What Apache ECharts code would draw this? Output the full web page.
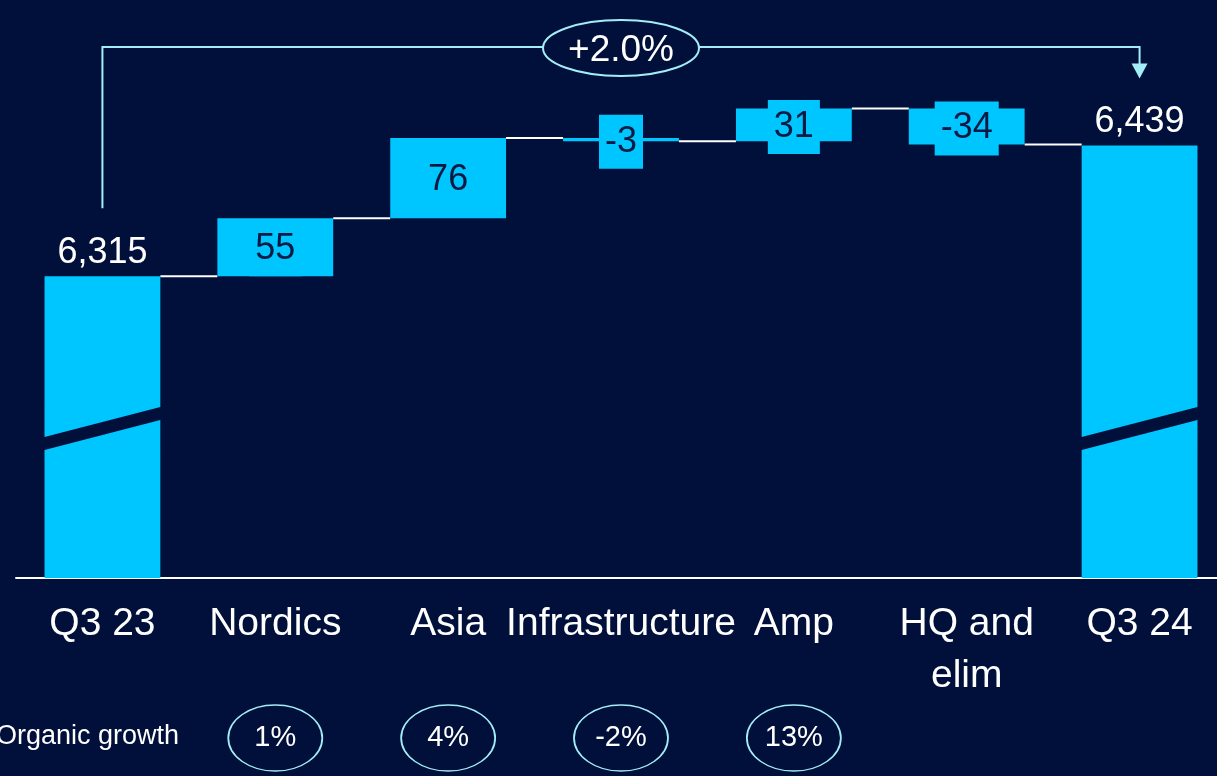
<!DOCTYPE html>
<html><head><meta charset="utf-8">
<script src="https://cdn.jsdelivr.net/npm/echarts@6/dist/echarts.min.js"></script>
<style>html,body{margin:0;padding:0;background:#010f3b;overflow:hidden;}#c{width:1226px;height:776px;}</style>
</head><body><div id="c"></div>
<script>
// ---- data ----
const categories = ['Q3 23', 'Nordics', 'Asia', 'Infrastructure', 'Amp', 'HQ and\nelim', 'Q3 24'];
const startTotal = 6315;
const endTotal = 6439;
const deltas = [null, 55, 76, -3, 31, -34, null];
const organicGrowth = [null, 1, 4, -2, 13, null, null];
const totalGrowthLabel = '+2.0%';
const axisMin = 6029;
const axisMax = 6539;

// ---- derived ----
const levels = [startTotal];
for (let i = 1; i < categories.length - 1; i++) levels[i] = levels[i - 1] + deltas[i];
const baseData = deltas.map((d, i) => d == null ? '-' : (d >= 0 ? levels[i - 1] : levels[i]));
const deltaData = deltas.map(d => d == null ? '-' : Math.abs(d));
const totalsData = [[0, startTotal], [categories.length - 1, endTotal]];
const connectorData = levels.map((v, i) => [i, v]);
const growthData = organicGrowth.map((g, i) => g == null ? null : [i, 0.5, g]).filter(Boolean);

const NAVY = '#010f3b', CYAN = '#00c6ff', LIGHT = '#a3eef6', DARKTXT = '#0b1a44';
const FONT = '"Liberation Sans", Arial, sans-serif';
const BAR_RATIO = 0.67;

const chart = echarts.init(document.getElementById('c'));
chart.setOption({
  backgroundColor: NAVY,
  animation: false,
  textStyle: { fontFamily: FONT },
  grid: [
    { left: 16, right: 0, top: 40, bottom: 198 },
    { left: 16, right: 0, top: 704, height: 68 }
  ],
  xAxis: [
    { type: 'category', gridIndex: 0, data: categories,
      axisLine: { show: true, lineStyle: { color: '#ffffff', width: 2 } },
      axisTick: { show: false },
      axisLabel: { interval: 0, color: '#ffffff', fontSize: 39, lineHeight: 52, margin: 20, fontFamily: FONT } },
    { type: 'category', gridIndex: 1, data: categories, show: false }
  ],
  yAxis: [
    { type: 'value', gridIndex: 0, min: axisMin, max: axisMax, show: false, splitLine: { show: false } },
    { type: 'value', gridIndex: 1, min: 0, max: 1, show: false, splitLine: { show: false } }
  ],
  graphic: [{
    type: 'text', left: -4, top: 723,
    style: { text: 'Organic growth', fill: '#ffffff', font: '27px ' + FONT }
  }],
  series: [
    { type: 'custom', name: 'connectors', z: 1, data: connectorData,
      renderItem(params, api) {
        const p = api.coord([api.value(0), api.value(1)]);
        const band = api.size([1, 0])[0];
        const w = band * BAR_RATIO;
        return { type: 'line', shape: { x1: p[0] + w / 2, y1: p[1], x2: p[0] + band - w / 2, y2: p[1] },
          style: { stroke: '#ffffff', lineWidth: 2 } };
      } },
    { type: 'bar', name: 'base', stack: 'wf', data: baseData, barWidth: (BAR_RATIO * 100) + '%',
      itemStyle: { color: 'transparent' }, silent: true, z: 2 },
    { type: 'bar', name: 'delta', stack: 'wf', data: deltaData, barWidth: (BAR_RATIO * 100) + '%',
      itemStyle: { color: CYAN }, z: 3,
      label: { show: true, position: 'inside', offset: [0, 2], formatter: p => String(deltas[p.dataIndex]),
        color: DARKTXT, fontSize: 36, lineHeight: 36, fontFamily: FONT,
        backgroundColor: CYAN, padding: [11, 6, 7, 6] } },
    { type: 'custom', name: 'totals', z: 3, data: totalsData,
      renderItem(params, api) {
        const xi = api.value(0), v = api.value(1);
        const top = api.coord([xi, v]);
        const base = api.coord([xi, axisMin]);
        const w = api.size([1, 0])[0] * BAR_RATIO;
        const x0 = top[0] - w / 2, x1 = top[0] + w / 2, yb = base[1];
        const rise = w * 0.26;
        return { type: 'group', children: [
          { type: 'polygon', shape: { points: [[x0, yb], [x1, yb], [x1, yb - 128 - rise], [x0, yb - 128]] }, style: { fill: CYAN } },
          { type: 'polygon', shape: { points: [[x0, yb - 141], [x1, yb - 141 - rise], [x1, top[1]], [x0, top[1]]] }, style: { fill: CYAN } },
          { type: 'text', x: top[0], y: top[1] - 5,
            style: { text: echarts.format.addCommas(v), fill: '#ffffff', font: '36px ' + FONT, align: 'center', verticalAlign: 'bottom' } }
        ] };
      } },
    { type: 'custom', name: 'bracket', z: 4, data: [[0, startTotal, categories.length - 1, endTotal]],
      encode: { x: 0, y: 1 },
      renderItem(params, api) {
        const a = api.coord([api.value(0), api.value(1)]);
        const b = api.coord([api.value(2), api.value(3)]);
        const topY = params.coordSys.y + 7;
        const tipY = b[1] - 67;
        const cx = (a[0] + b[0]) / 2, cy = topY + 1;
        const rx = 78, ry = 28;
        const ell = 'M' + (cx - rx) + ' ' + cy + ' A' + rx + ' ' + ry + ' 0 1 0 ' + (cx + rx) + ' ' + cy +
                    ' A' + rx + ' ' + ry + ' 0 1 0 ' + (cx - rx) + ' ' + cy + ' Z';
        return { type: 'group', children: [
          { type: 'polyline', shape: { points: [[a[0], a[1] - 68], [a[0], topY], [b[0], topY], [b[0], tipY - 14]] },
            style: { stroke: LIGHT, lineWidth: 2, fill: null } },
          { type: 'polygon', shape: { points: [[b[0] - 8, tipY - 15], [b[0] + 8, tipY - 15], [b[0], tipY]] }, style: { fill: LIGHT } },
          { type: 'path', shape: { pathData: ell }, style: { fill: NAVY, stroke: LIGHT, lineWidth: 2 } },
          { type: 'text', x: cx, y: cy + 3, style: { text: totalGrowthLabel, fill: '#ffffff', font: '37px ' + FONT, align: 'center', verticalAlign: 'middle' } }
        ] };
      } },
    { type: 'scatter', name: 'organic', xAxisIndex: 1, yAxisIndex: 1, data: growthData,
      symbol: 'path://M0,1A1,1,0,1,1,2,1A1,1,0,1,1,0,1Z', symbolSize: [94, 66],
      itemStyle: { color: NAVY, borderColor: LIGHT, borderWidth: 1.5, opacity: 1 },
      label: { show: true, position: 'inside', formatter: p => p.value[2] + '%', color: '#ffffff', fontSize: 29, fontFamily: FONT } }
  ]
});
</script></body></html>
